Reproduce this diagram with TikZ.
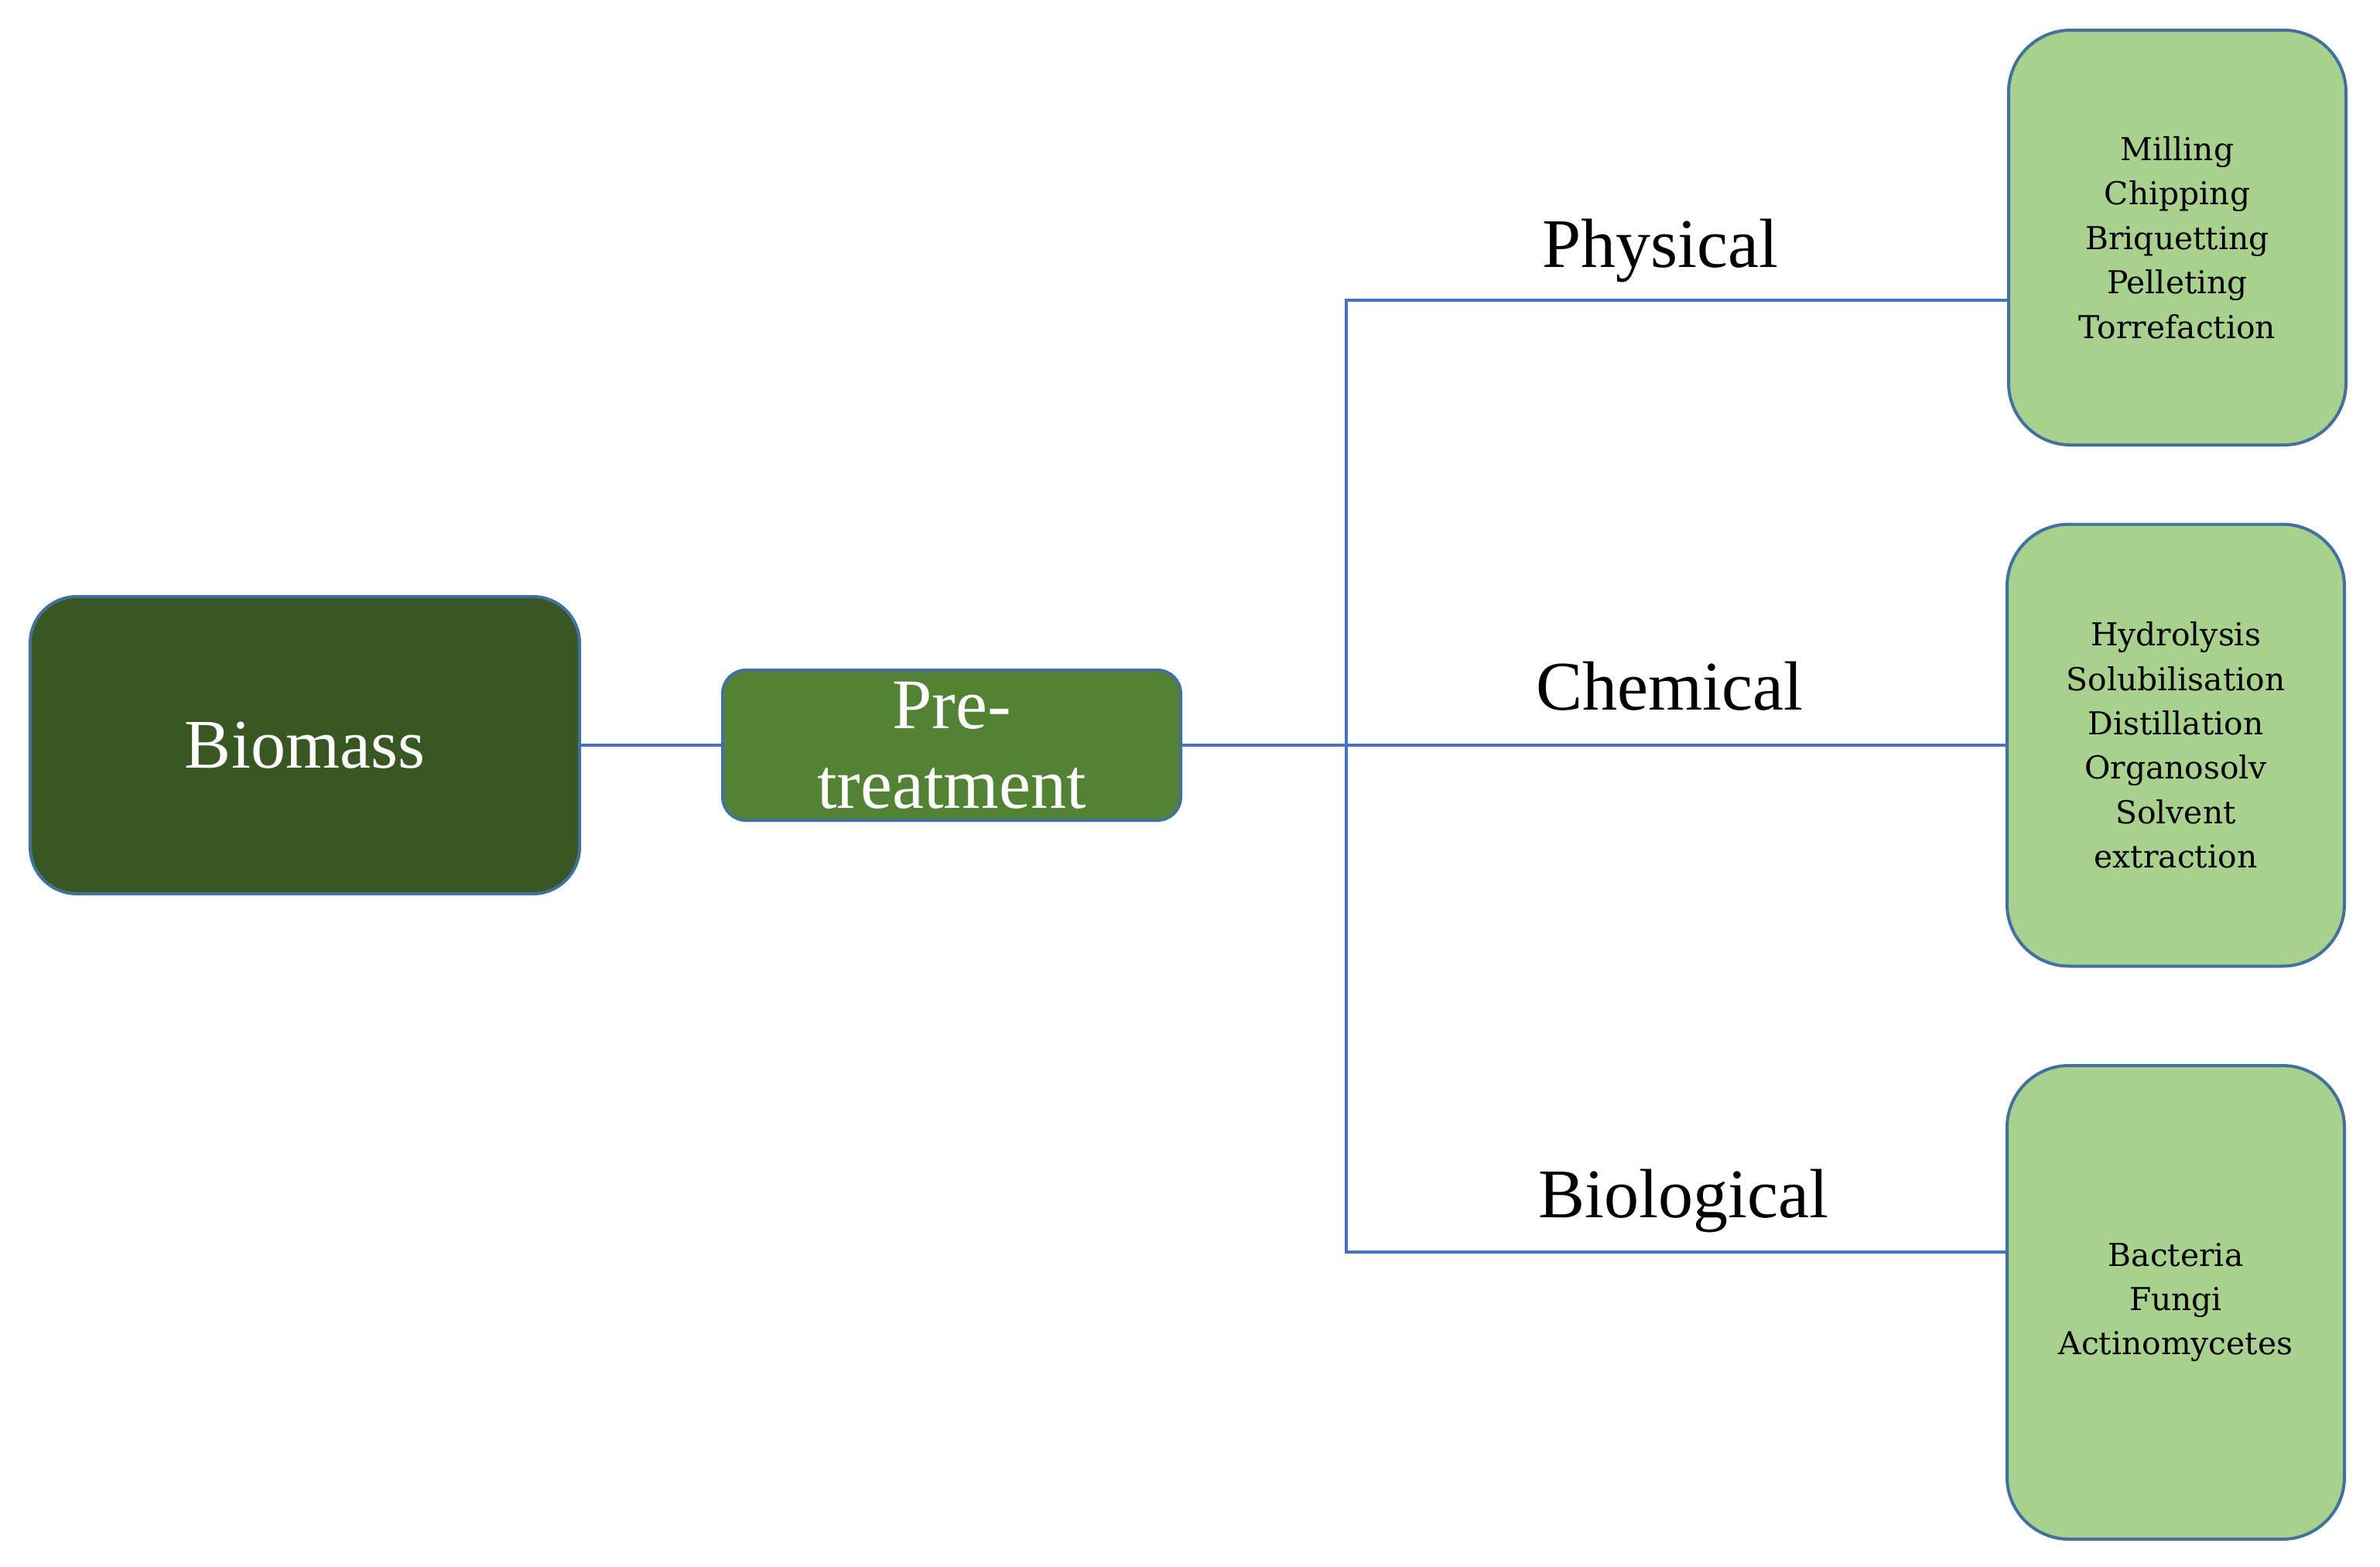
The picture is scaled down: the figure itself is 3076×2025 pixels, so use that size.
\documentclass[tikz,border=0pt]{standalone}
\usepackage{fontspec}
\setmainfont{Liberation Serif}
\newfontfamily\boxfont{DejaVu Serif}
\definecolor{bordc}{HTML}{41719C}
\definecolor{linec}{HTML}{4472C4}
\definecolor{darkg}{HTML}{385723}
\definecolor{midg}{HTML}{548235}
\definecolor{lightg}{HTML}{A9D18E}
\tikzset{
  basebox/.style={draw=bordc, line width=1pt, inner sep=0pt, align=center},
  biobox/.style={basebox, fill=darkg, text=white, rounded corners=15pt,
    minimum width=177.5pt, minimum height=96pt,
    font=\fontsize{22.5}{25.75}\selectfont},
  prebox/.style={basebox, fill=midg, text=white, rounded corners=7.5pt,
    minimum width=148pt, minimum height=48.5pt,
    font=\fontsize{23}{25.75}\selectfont},
  methbox/.style={basebox, fill=lightg, text=black, rounded corners=20pt,
    minimum width=109pt, font=\boxfont\fontsize{10.2}{14.35}\selectfont},
  catlabel/.style={anchor=base, inner sep=0pt, font=\fontsize{22.5}{26}\selectfont},
  conn/.style={draw=linec, line width=0.8pt}
}
\begin{document}
\begin{tikzpicture}[x=0.25pt,y=-0.25pt]
\useasboundingbox (0,0) rectangle (3076,2025);
\node[biobox] (bio) at (394,963) {Biomass};
\node[prebox] (pre) at (1230,963) {Pre-\\treatment};
\node[methbox, minimum height=134pt] (phys) at (2814,307)
  {Milling\\Chipping\\Briquetting\\Pelleting\\Torrefaction};
\node[methbox, minimum height=142.75pt] (chem) at (2812,963)
  {Hydrolysis\\Solubilisation\\Distillation\\Organosolv\\Solvent\\extraction};
\node[methbox, minimum height=153pt] (biol) at (2812,1683)
  {Bacteria\\Fungi\\Actinomycetes};
\node[catlabel] (lphys) at (2146,345) {Physical};
\node[catlabel] (lchem) at (2158,917) {Chemical};
\node[catlabel] (lbiol) at (2176,1573) {Biological};
\coordinate (jt) at (1740,388);
\coordinate (jb) at (1740,1618);
\draw[conn] (bio.east) -- (pre.west);
\draw[conn] (pre.east) -- (chem.west);
\draw[conn] (jt -| phys.west) -- (jt) -- (jb) -- (jb -| biol.west);
\end{tikzpicture}
\end{document}
